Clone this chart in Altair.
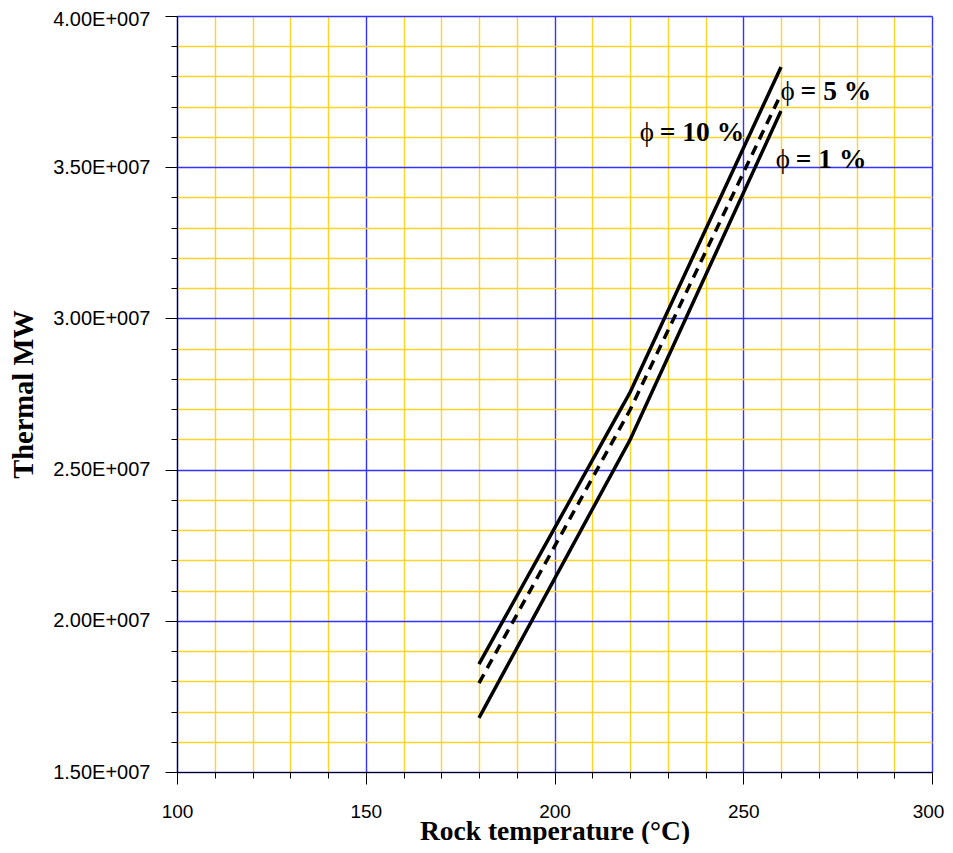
import altair as alt
import pandas as pd

# ---- data ----
temps = [180, 220, 260]
phi10 = [1.857e7, 2.755e7, 3.831e7]
phi5 = [1.794e7, 2.697e7, 3.742e7]
phi1 = [1.679e7, 2.598e7, 3.686e7]
series_names = ["phi10", "phi5", "phi1"]

label_x = [222.6, 259.9, 258.6]
label_y = [3.612e7, 3.749e7, 3.524e7]
label_txt = ["= 10 %", "= 5 %", "= 1 %"]

x_ticks = list(range(100, 301, 10))
y_ticks = [1.5e7 + k * 1e6 for k in range(26)]

rows = []
for name, vals in zip(series_names, [phi10, phi5, phi1]):
    for t, v in zip(temps, vals):
        rows.append({"series": name, "T": t, "MW": v})
df = pd.DataFrame(rows)
lab = pd.DataFrame({"x": label_x, "y": label_y, "txt": label_txt})

xscale = alt.Scale(domain=[100, 300], nice=False, zero=False)
yscale = alt.Scale(domain=[1.5e7, 4.0e7], nice=False, zero=False)

x_axis = alt.Axis(
    values=x_ticks, tickCount=100,
    labelExpr="datum.value % 50 === 0 ? datum.label : ''",
    labelOverlap=False,
    labelOffset={"condition": {"test": "datum.value === 300", "value": -4}, "value": 0},
    tickSize={"condition": {"test": "datum.value % 50 === 0", "value": 12}, "value": 6},
    gridColor={"condition": {"test": "datum.value % 50 === 0", "value": "#3333ff"}, "value": "#ffd42a"},
    grid=True, gridWidth=1.4, gridOpacity=1,
    domainColor="black", tickColor="black", domainWidth=1.2, tickWidth=1,
    labelFont="Liberation Sans", labelFontSize=19, labelColor="black",
    labelPadding=18, labelBaseline="top", labelFlush=False,
    title="Rock temperature (°C)", titleFont="Liberation Serif", titleFontSize=27.5,
    titleFontWeight="bold", titleColor="black",
    titleBaseline="alphabetic", titleY=67,
)
y_axis = alt.Axis(
    values=y_ticks, tickCount=100,
    labelExpr="datum.value % 5000000 === 0 ? format(datum.value / 1e7, '.2f') + 'E+007' : ''",
    labelOverlap=False, labelFlush=False,
    labelBaseline={"condition": {"test": "datum.value >= 40000000", "value": "top"}, "value": "middle"},
    labelOffset={"condition": {"test": "datum.value >= 40000000", "value": -7}, "value": 0},
    tickSize={"condition": {"test": "datum.value % 5000000 === 0", "value": 12}, "value": 6},
    gridColor={"condition": {"test": "datum.value % 5000000 === 0", "value": "#3333ff"}, "value": "#ffd42a"},
    grid=True, gridWidth=1.4, gridOpacity=1,
    domainColor="black", tickColor="black", domainWidth=1.2, tickWidth=1,
    labelFont="Liberation Sans", labelFontSize=20, labelColor="black",
    labelPadding=15,
    title="Thermal MW", titleFont="Liberation Serif", titleFontSize=28.5,
    titleFontWeight="bold", titleColor="black",
    titleBaseline="middle", titleX=-154,
)

lines = alt.Chart(df).mark_line(color="black", strokeWidth=3.5).encode(
    x=alt.X("T:Q", scale=xscale, axis=x_axis),
    y=alt.Y("MW:Q", scale=yscale, axis=y_axis),
    detail="series:N",
    strokeDash=alt.StrokeDash(
        "series:N",
        scale=alt.Scale(domain=series_names, range=[[1, 0], [10, 7], [1, 0]]),
        legend=None,
    ),
)

phi = alt.Chart(lab).mark_text(
    text="ϕ", font="Liberation Serif", fontSize=27, align="left", baseline="middle", color="black"
).encode(x=alt.X("x:Q", scale=xscale), y=alt.Y("y:Q", scale=yscale))

rest = alt.Chart(lab).mark_text(
    font="Liberation Serif", fontSize=27.5, fontWeight="bold", align="left", baseline="middle",
    color="black", dx=20
).encode(x=alt.X("x:Q", scale=xscale), y=alt.Y("y:Q", scale=yscale), text="txt:N")

chart = alt.layer(lines, phi, rest).properties(
    width=755, height=756,
    autosize=alt.AutoSizeParams(type="none"),
    padding={"left": 169, "top": 8, "right": 13, "bottom": 72},
).configure_view(stroke=None).configure(background="white")

chart.save("out.html", embed_options={"renderer": "svg", "actions": False})
